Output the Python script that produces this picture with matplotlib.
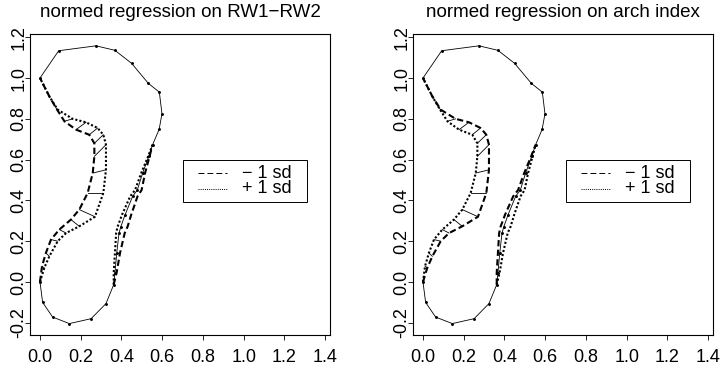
import numpy as np
import matplotlib
matplotlib.use("Agg")
import matplotlib.pyplot as plt
from matplotlib.patches import Rectangle
from matplotlib.lines import Line2D

plt.rcParams['font.family'] = ['Liberation Sans', 'DejaVu Sans']
plt.rcParams['axes.unicode_minus'] = False

# mean outline (solid, with landmarks), from (0,0) round the bottom, up the right side, over the top
outline_x = [0.000, 0.013, 0.062, 0.144, 0.251, 0.324, 0.362, 0.368, 0.377, 0.388, 0.397,
             0.418, 0.455, 0.478, 0.504, 0.534, 0.553, 0.585, 0.599, 0.586, 0.532, 0.450,
             0.368, 0.275, 0.092, 0.000]
outline_y = [0.000, -0.100, -0.172, -0.204, -0.180, -0.106, -0.013, 0.044, 0.142, 0.240, 0.271,
             0.330, 0.420, 0.451, 0.534, 0.616, 0.673, 0.748, 0.825, 0.931, 0.974, 1.072,
             1.136, 1.158, 1.134, 1.000]

# right side of the outline: mean and x shifts for the two deformations
right_y = [-0.013, 0.044, 0.142, 0.240, 0.271, 0.330, 0.420, 0.451, 0.534, 0.616, 0.673]
right_mean_x = [0.362, 0.368, 0.377, 0.388, 0.397, 0.418, 0.455, 0.478, 0.504, 0.534, 0.553]
right_shift_a = [0.000, 0.008, 0.016, 0.028, 0.033, 0.030, 0.024, 0.021, 0.012, 0.004, 0.000]
right_shift_b = [0.000, -0.006, -0.009, -0.014, -0.016, -0.015, -0.012, -0.011, -0.007, -0.003, 0.000]

# concave left side, two deformed versions (same semi-landmarks)
left_a_x = [0.000, 0.010, 0.029, 0.054, 0.095, 0.152, 0.193, 0.234, 0.259, 0.267, 0.267,
            0.242, 0.177, 0.120, 0.079, 0.046, 0.000]
left_a_y = [0.000, 0.077, 0.142, 0.208, 0.257, 0.306, 0.355, 0.436, 0.534, 0.616, 0.680,
            0.722, 0.747, 0.788, 0.853, 0.910, 1.000]
left_b_x = [0.000, 0.021, 0.046, 0.087, 0.128, 0.193, 0.270, 0.311, 0.324, 0.324, 0.311,
            0.283, 0.226, 0.160, 0.087, 0.046, 0.000]
left_b_y = [0.000, 0.069, 0.126, 0.200, 0.240, 0.273, 0.320, 0.436, 0.550, 0.673, 0.722,
            0.755, 0.783, 0.800, 0.845, 0.910, 1.000]

titles = ["normed regression on RW1\u2212RW2", "normed regression on arch index"]
legend_labels = ["\u2212 1 sd", "+ 1 sd"]

DASH = (3.0, 1.6)
DOT = (1.0, 1.0)


def draw_panel(ax, minus, plus, title):
    (mlx, mly, mrs), (plx, ply, prs) = minus, plus
    # sticks between corresponding points
    for i in range(len(mlx)):
        ax.plot([mlx[i], plx[i]], [mly[i], ply[i]], color='black', lw=0.6)
    ax.plot(outline_x, outline_y, color='black', lw=0.6, marker='o', markersize=1.1)
    rx = np.array(right_mean_x)
    ax.plot(mlx, mly, color='black', lw=1.5, dashes=DASH)
    ax.plot(plx, ply, color='black', lw=1.5, dashes=DOT)
    ax.plot(rx + np.array(mrs), right_y, color='black', lw=1.5, dashes=DASH)
    ax.plot(rx + np.array(prs), right_y, color='black', lw=1.5, dashes=DOT)

    ax.set_xlim(-0.049, 1.424)
    ax.set_ylim(-0.26, 1.216)
    ax.set_xticks(np.arange(0, 1.41, 0.2))
    ax.set_yticks(np.arange(-0.2, 1.21, 0.2))
    ax.set_xticklabels([f"{v:.1f}" for v in np.arange(0, 1.41, 0.2)])
    ax.set_yticklabels([f"{v:.1f}" for v in np.arange(-0.2, 1.21, 0.2)],
                       rotation=90, va='center')
    ax.tick_params(axis='x', length=3.5, width=0.6, labelsize=13, pad=6.5)
    ax.tick_params(axis='y', length=3.5, width=0.6, labelsize=13, pad=-1.5)
    for s in ax.spines.values():
        s.set_linewidth(0.8)
    ax.set_title(title, fontsize=13.5, pad=12)

    # legend box, drawn like R's legend()
    ax.add_patch(Rectangle((0.70, 0.39), 0.61, 0.21, facecolor='white',
                           edgecolor='black', lw=0.7, zorder=5))
    rows = [0.534, 0.456]
    styles = [(6.0, 3.2), (1.0, 1.2)]
    for yy, st, lab in zip(rows, styles, legend_labels):
        ax.add_line(Line2D([0.776, 0.919], [yy, yy], color='black', lw=0.7,
                           dashes=st, zorder=6))
        ax.text(0.992, yy, lab, fontsize=13, va='center', ha='left', zorder=6)


fig = plt.figure(figsize=(7.25, 3.65), dpi=100)
ax1 = fig.add_axes([30 / 725, 30 / 365, 300 / 725, 301 / 365])
ax2 = fig.add_axes([413 / 725, 30 / 365, 300 / 725, 301 / 365])

draw_panel(ax1, (left_a_x, left_a_y, right_shift_a), (left_b_x, left_b_y, right_shift_b), titles[0])
draw_panel(ax2, (left_b_x, left_b_y, right_shift_b), (left_a_x, left_a_y, right_shift_a), titles[1])

fig.savefig("out.png", dpi=100)
